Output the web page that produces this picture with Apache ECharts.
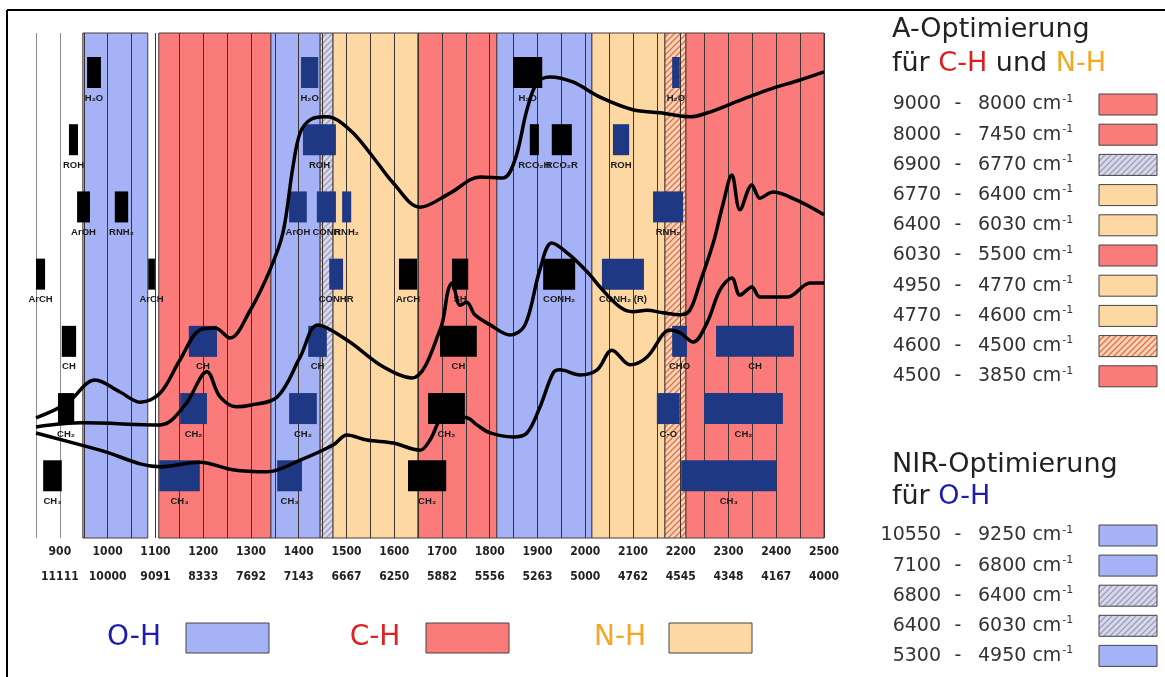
<!DOCTYPE html>
<html><head><meta charset="utf-8">
<script src="https://cdn.jsdelivr.net/npm/echarts@6/dist/echarts.min.js"></script>
<style>html,body{margin:0;padding:0;background:#fff}#c{width:1165px;height:677px}</style>
</head><body><div id="c"></div>
<script>
// ---------- data ----------
const nmTicks = [900,1000,1100,1200,1300,1400,1500,1600,1700,1800,1900,2000,2100,2200,2300,2400,2500];
const wnTicks = ['11111','10000','9091','8333','7692','7143','6667','6250','5882','5556','5263','5000','4762','4545','4348','4167','4000'];

// background bands (nm)
const bandStart = [948, 1107, 1342, 1445, 1472, 1650, 1815, 2014, 2167, 2211];
const bandEnd   = [1084, 1342, 1445, 1472, 1650, 1815, 2014, 2167, 2211, 2500];
const bandType  = ['OH','CH','OH','OHx','NH','CH','OH','NH','NHx','CH'];

// functional-group marker boxes (nm range, row level, label, kind b=black n=navy)
const boxStart = [957,1405,1849,2182, 919,1409,1884,1930,2058, 936,1015,1380,1438,1491,2142, 850,1085,1464,1610,1721,1912,2035, 904,1170,1420,1696,2182,2274, 896,1152,1380,1671,2150,2249, 865,1108,1355,1629,2201];
const boxEnd   = [986,1441,1910,2198, 938,1478,1903,1972,2092, 963,1043,1417,1478,1510,2205, 869,1099,1493,1648,1755,1979,2123, 934,1229,1459,1773,2213,2437, 930,1208,1438,1748,2198,2414, 904,1193,1407,1709,2400];
const boxRow   = [0,0,0,0, 1,1,1,1,1, 2,2,2,2,2,2, 3,3,3,3,3,3,3, 4,4,4,4,4,4, 5,5,5,5,5,5, 6,6,6,6,6];
const boxLabel = ['H₂O','H₂O','H₂O','H₂O', 'ROH','ROH','RCO₂H','RCO₂R','ROH', 'ArOH','RNH₂','ArOH','CONH','RNH₂','RNH₂',
                  'ArCH','ArCH','CONHR','ArCH','SH','CONH₂','CONH₂ (R)', 'CH','CH','CH','CH','CHO','CH',
                  'CH₂','CH₂','CH₂','CH₂','C-O','CH₂', 'CH₃','CH₃','CH₃','CH₃','CH₃'];
const boxKind  = ['b','n','b','n', 'b','n','b','b','n', 'b','b','n','n','n','n', 'b','b','n','b','b','b','n', 'b','n','n','b','n','n', 'b','n','n','b','n','n', 'b','n','n','b','n'];

// spectra (nm, relative absorbance)
const curveTop = [[850,23.8],[915,26.7],[974,31.3],[1026,28.9],[1068,26.9],[1110,28.7],[1151,35.2],[1193,41.2],[1225,41.6],[1256,39.6],[1298,45.0],[1340,53.1],[1367,60.4],[1388,73.5],[1403,80.2],[1424,82.8],[1455,83.4],[1472,83.2],[1514,80.2],[1556,75.4],[1598,70.3],[1654,65.5],[1717,68.3],[1780,71.5],[1828,71.3],[1853,74.9],[1878,84.8],[1899,90.1],[1926,91.3],[1974,90.3],[2031,87.3],[2100,84.8],[2157,84.2],[2220,83.4],[2256,84.2],[2309,86.1],[2381,88.7],[2450,90.7],[2500,92.3]];
const curveMid = [[850,22.0],[948,22.8],[1110,22.4],[1162,26.3],[1208,32.9],[1235,28.0],[1270,26.0],[1298,26.3],[1355,27.9],[1403,35.8],[1440,42.2],[1501,39.2],[1577,33.9],[1637,31.7],[1696,41.2],[1713,49.1],[1721,50.5],[1738,46.1],[1752,46.7],[1769,44.2],[1801,42.2],[1843,40.2],[1874,42.2],[1905,53.1],[1930,58.4],[1968,56.0],[2010,52.1],[2031,49.7],[2073,45.7],[2100,44.8],[2129,45.1],[2163,44.6],[2199,44.2],[2219,45.1],[2240,50.5],[2268,58.4],[2289,66.3],[2307,71.9],[2324,65.0],[2349,69.9],[2366,67.3],[2393,68.5],[2443,66.9],[2500,64.0]];
const curveLow = [[850,20.8],[984,17.4],[1110,14.1],[1193,15.0],[1262,13.5],[1334,13.1],[1403,15.4],[1472,18.4],[1501,20.4],[1543,19.4],[1598,18.8],[1654,17.4],[1675,19.4],[1696,23.4],[1711,24.0],[1752,23.8],[1773,22.4],[1801,20.8],[1849,20.0],[1878,20.8],[1905,25.9],[1933,32.7],[1947,33.3],[1989,32.3],[2025,33.3],[2056,37.2],[2094,34.3],[2129,35.8],[2178,41.2],[2199,40.6],[2226,38.8],[2255,42.6],[2282,49.1],[2307,51.5],[2324,48.1],[2349,49.7],[2366,47.7],[2423,47.7],[2471,50.5],[2500,50.5]];

// legend tables
const legAFrom = ['9000','8000','6900','6770','6400','6030','4950','4770','4600','4500'];
const legATo   = ['8000','7450','6770','6400','6030','5500','4770','4600','4500','3850'];
const legAType = ['CH','CH','OHx','NH','NH','CH','NH','NH','NHx','CH'];
const legBFrom = ['10550','7100','6800','6400','5300'];
const legBTo   = ['9250','6800','6400','6030','4950'];
const legBType = ['OH','OH','OHx','OHx','OH'];

// ---------- styles ----------
function hatch(bg, fg) {
  const c = document.createElement('canvas'); c.width = 6; c.height = 6;
  const g = c.getContext('2d'); g.fillStyle = bg; g.fillRect(0,0,6,6);
  g.strokeStyle = fg; g.lineWidth = 1.3;
  g.beginPath();
  g.moveTo(0,6); g.lineTo(6,0);
  g.moveTo(-3,3); g.lineTo(3,-3);
  g.moveTo(3,9); g.lineTo(9,3);
  g.stroke();
  return {image: c, repeat: 'repeat'};
}
const FILL = {
  OH: '#a6b2f6',
  CH: '#fb7b7b',
  NH: '#fed8a3',
  OHx: hatch('#d8d8e8', '#9d9dbf'),
  NHx: hatch('#fcd3b3', '#e0714e')
};
const NAVY = '#1f3883';
const ROW_TOP = 95.25, ROW_STEP = 13.31, ROW_H = 6.14;

const chart = echarts.init(document.getElementById('c'), null, {renderer: 'canvas'});

const splitTicks = [];
for (let t = 850; t <= 2500; t += 50) splitTicks.push(t);
const splitColors = splitTicks.map(t => t <= 900 ? '#8c8c8c' : '#3e3333');

// legend graphics
const graphics = [];
graphics.push({type:'line', shape:{x1:7,y1:10,x2:1165,y2:10}, style:{stroke:'#000', lineWidth:2}});
graphics.push({type:'line', shape:{x1:7,y1:10,x2:7,y2:677}, style:{stroke:'#000', lineWidth:2}});

const TF = '"DejaVu Sans", Verdana, sans-serif';
graphics.push({type:'text', x:892, y:30, style:{text:'A-Optimierung', font:'27px '+TF, fill:'#222', verticalAlign:'middle'}});
graphics.push({type:'text', x:892, y:64, style:{
  text:'{a|für }{r|C-H}{a| und }{o|N-H}', verticalAlign:'middle',
  rich:{a:{font:'27px '+TF, fill:'#222'}, r:{font:'27px '+TF, fill:'#d8201f'}, o:{font:'27px '+TF, fill:'#f5a81f'}}
}});
graphics.push({type:'text', x:892, y:465, style:{text:'NIR-Optimierung', font:'27px '+TF, fill:'#222', verticalAlign:'middle'}});
graphics.push({type:'text', x:892, y:497, style:{
  text:'{a|für }{b|O-H}', verticalAlign:'middle',
  rich:{a:{font:'27px '+TF, fill:'#222'}, b:{font:'27px '+TF, fill:'#1c1cb0'}}
}});

function legRow(from, to, type, yc) {
  graphics.push({type:'text', x:941, y:yc, style:{text:from, font:'19px '+TF, fill:'#333', align:'right', verticalAlign:'middle'}});
  graphics.push({type:'text', x:958, y:yc, style:{text:'-', font:'19px '+TF, fill:'#333', align:'center', verticalAlign:'middle'}});
  graphics.push({type:'text', x:978, y:yc, style:{
    text:'{n|'+to+' cm}{s|-1}', verticalAlign:'middle',
    rich:{n:{font:'19px '+TF, fill:'#333', lineHeight:22}, s:{font:'11px '+TF, fill:'#333', verticalAlign:'top', padding:[0,0,0,1]}}
  }});
  graphics.push({type:'rect', shape:{x:1099, y:yc-10.5, width:58, height:21}, style:{fill:FILL[type], stroke:'#444', lineWidth:1}});
}
legAFrom.forEach((f,i) => legRow(f, legATo[i], legAType[i], 104.5 + 30.2*i));
legBFrom.forEach((f,i) => legRow(f, legBTo[i], legBType[i], 535.5 + 30.1*i));

// bottom legend
const BF = '"DejaVu Sans", sans-serif';
[['O-H','#1c1cb0','OH',134,186],['C-H','#e02222','CH',375,426],['N-H','#f5a623','NH',620,669]].forEach(d => {
  graphics.push({type:'text', x:d[3], y:638, style:{text:d[0], font:'28px '+BF, fill:d[1], align:'center', verticalAlign:'middle'}});
  graphics.push({type:'rect', shape:{x:d[4], y:623, width:83, height:30}, style:{fill:FILL[d[2]], stroke:'#444', lineWidth:1}});
});

const labelFont = {fontFamily:'"Liberation Sans Narrow", "DejaVu Sans Condensed", sans-serif', fontWeight:'bold', fontSize:12, color:'#222'};

chart.setOption({
  animation: false,
  backgroundColor: '#fff',
  grid: {left:36, right:341, top:33, bottom:139, show:false},
  xAxis: [
    {type:'value', min:850, max:2500, interval:50, z:1.5,
     axisLine:{show:false}, axisTick:{show:false},
     splitLine:{show:true, lineStyle:{color:splitColors, width:1}},
     axisLabel:Object.assign({margin:8, formatter:v => nmTicks.indexOf(v) >= 0 ? String(v) : ''}, labelFont)},
    {type:'value', min:850, max:2500, interval:50, position:'bottom', offset:25,
     axisLine:{show:false}, axisTick:{show:false}, splitLine:{show:false},
     axisLabel:Object.assign({margin:8, formatter:v => { const i = nmTicks.indexOf(v); return i >= 0 ? wnTicks[i] : ''; }}, labelFont)}
  ],
  yAxis: {type:'value', min:0, max:100, show:false},
  graphic: graphics,
  series: [
    {type:'custom', name:'bands', z:1, silent:true,
     data: bandStart.map((s,i) => [s, bandEnd[i]]),
     encode:{x:[0,1]},
     renderItem:(params, api) => {
       const p0 = api.coord([api.value(0), 100]), p1 = api.coord([api.value(1), 0]);
       return {type:'rect', shape:{x:p0[0], y:p0[1], width:p1[0]-p0[0], height:p1[1]-p0[1]},
               style:{fill:FILL[bandType[params.dataIndex]], stroke:'#4a3c3c', lineWidth:1}};
     }},
    {type:'custom', name:'groups', z:3, silent:true,
     data: boxStart.map((s,i) => [s, boxEnd[i], boxRow[i]]),
     encode:{x:[0,1], y:2},
     renderItem:(params, api) => {
       const i = params.dataIndex;
       const top = ROW_TOP - api.value(2)*ROW_STEP;
       const p0 = api.coord([api.value(0), top]), p1 = api.coord([api.value(1), top - ROW_H]);
       return {type:'group', children:[
         {type:'rect', shape:{x:p0[0], y:p0[1], width:p1[0]-p0[0], height:p1[1]-p0[1]},
          style:{fill: boxKind[i] === 'b' ? '#000' : NAVY}},
         {type:'text', style:{text:boxLabel[i], x:(p0[0]+p1[0])/2, y:p1[1]+10, align:'center', verticalAlign:'middle',
          font:'bold 9.5px "Liberation Sans", Arial, sans-serif', fill:'#1a1a1a'}}
       ]};
     }},
    {type:'line', name:'top', z:5, data:curveTop, showSymbol:false, smooth:0.35, silent:true, lineStyle:{color:'#000', width:3.5}},
    {type:'line', name:'mid', z:5, data:curveMid, showSymbol:false, smooth:0.35, silent:true, lineStyle:{color:'#000', width:3.5}},
    {type:'line', name:'low', z:5, data:curveLow, showSymbol:false, smooth:0.35, silent:true, lineStyle:{color:'#000', width:3.5}}
  ]
});
</script></body></html>
